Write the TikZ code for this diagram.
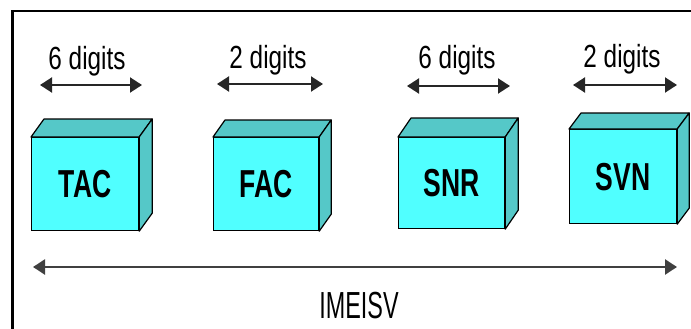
\documentclass[tikz,border=0pt]{standalone}
\usepackage{fontspec}
\setmainfont{Liberation Sans}
\newfontfamily\digitfont[FakeStretch=0.76]{Liberation Sans}
\newfontfamily\boxfont[FakeStretch=0.68]{Liberation Sans}
\newfontfamily\imeifont[FakeStretch=0.62]{Liberation Sans}
\usetikzlibrary{arrows.meta}
\definecolor{frontcyan}{RGB}{80,255,255}
\definecolor{sidecyan}{RGB}{85,200,200}
\tikzset{
  frontface/.style={draw=black, line width=1.2pt, fill=frontcyan, inner sep=0pt, anchor=north west,
    font=\boxfont\bfseries\fontsize{39}{40}\selectfont},
  depthface/.style={draw=black, line width=1.2pt, fill=sidecyan, line join=round},
  digitlabel/.style={anchor=base, inner sep=0pt, font=\digitfont\fontsize{32}{34}\selectfont},
  spanarrow/.style={line width=2pt, draw=black!85, {Triangle[length=12pt,width=15pt]}-{Triangle[length=12pt,width=15pt]}},
  bigarrow/.style={line width=2.4pt, draw=black!75, {Triangle[length=12pt,width=15pt]}-{Triangle[length=12pt,width=15pt]}},
  frameline/.style={line width=2.6pt, draw=black}
}
\newcommand{\drawcube}[8]{% name, x, y, w, h, dx, dy, label
  \node[frontface, minimum width=#4pt, minimum height=#5pt] (#1) at (#2,#3) {#8};
  \draw[depthface] (#1.north west) -- ++(#6,#7) -- ([shift={(#6,#7)}]#1.north east) -- (#1.north east) -- cycle;
  \draw[depthface] (#1.north east) -- ++(#6,#7) -- ([shift={(#6,#7)}]#1.south east) -- (#1.south east) -- cycle;
}
\begin{document}
\begin{tikzpicture}[x=1pt,y=-1pt]
\useasboundingbox (0,0) rectangle (691,329);
% frame
\coordinate (fbl) at (12.5,331);
\coordinate (ftl) at (12.5,11);
\coordinate (ftr) at (693,11);
\draw[frameline] (fbl) -- (ftl) -- (ftr);
% cubes
\drawcube{tac}{31}{137}{107}{93}{13}{-18}{TAC}
\drawcube{fac}{213}{137}{105}{93}{12}{-17}{FAC}
\drawcube{snr}{398}{137}{106}{91}{13}{-19}{SNR}
\drawcube{svn}{569}{129}{107}{94}{12}{-16}{SVN}
% digit labels
\node[digitlabel] (d1) at (87,70) {6 digits};
\node[digitlabel] (d2) at (268,69) {2 digits};
\node[digitlabel] (d3) at (457,69) {6 digits};
\node[digitlabel] (d4) at (622,68) {2 digits};
% span arrows
\coordinate (a1l) at (40,85);  \coordinate (a1r) at (142,85);
\coordinate (a2l) at (217,84); \coordinate (a2r) at (323,84);
\coordinate (a3l) at (407,86); \coordinate (a3r) at (510,86);
\coordinate (a4l) at (573,85); \coordinate (a4r) at (677,85);
\draw[spanarrow] (a1l) -- (a1r);
\draw[spanarrow] (a2l) -- (a2r);
\draw[spanarrow] (a3l) -- (a3r);
\draw[spanarrow] (a4l) -- (a4r);
% big arrow
\coordinate (bl) at (33,267);
\coordinate (br) at (677,267);
\draw[bigarrow] (bl) -- (br);
\node[anchor=base, inner sep=0pt, font=\imeifont\fontsize{37.7}{40}\selectfont] (imei) at (359,318) {IMEISV};
\end{tikzpicture}
\end{document}
